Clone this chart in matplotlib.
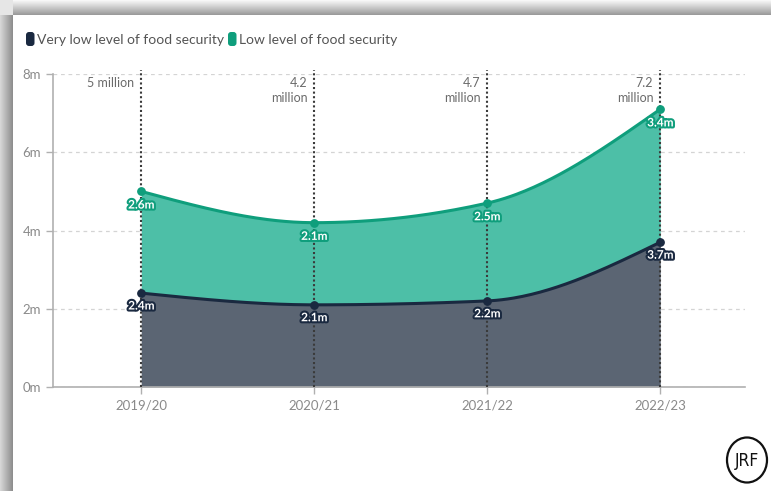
import numpy as np
import matplotlib.pyplot as plt
import matplotlib.patheffects as pe
from matplotlib.patches import Ellipse, FancyBboxPatch

plt.rcParams['font.family'] = ['Lato', 'DejaVu Sans']

years = ['2019/20', '2020/21', '2021/22', '2022/23']
very_low = [2.4, 2.1, 2.2, 3.7]
low = [2.6, 2.1, 2.5, 3.4]
total_labels = ['5 million', '4.2\nmillion', '4.7\nmillion', '7.2\nmillion']
yticks = [0, 2, 4, 6, 8]

dark_fill = '#5b6573'
dark_line = '#1a2940'
green_fill = '#4dbfa7'
green_line = '#0f9e7c'
text_grey = '#6b6b6b'


def monotone(x, y, n=60):
    # d3 curveMonotoneX style smoothing
    x = np.asarray(x, float)
    y = np.asarray(y, float)
    h = np.diff(x)
    s = np.diff(y) / h
    t = np.zeros(len(x))
    for i in range(1, len(x) - 1):
        p = (s[i - 1] * h[i] + s[i] * h[i - 1]) / (h[i - 1] + h[i])
        t[i] = (np.sign(s[i - 1]) + np.sign(s[i])) * min(abs(s[i - 1]), abs(s[i]), 0.5 * abs(p))
    t[0] = (3 * s[0] - t[1]) / 2
    t[-1] = (3 * s[-1] - t[-2]) / 2
    xs, ys = [], []
    u = np.linspace(0, 1, n)
    for i in range(len(x) - 1):
        dx = h[i] / 3
        px = [x[i], x[i] + dx, x[i + 1] - dx, x[i + 1]]
        py = [y[i], y[i] + dx * t[i], y[i + 1] - dx * t[i + 1], y[i + 1]]
        b = [(1 - u) ** 3, 3 * u * (1 - u) ** 2, 3 * u ** 2 * (1 - u), u ** 3]
        xs.append(sum(bi * pi for bi, pi in zip(b, px)))
        ys.append(sum(bi * pi for bi, pi in zip(b, py)))
    return np.concatenate(xs), np.concatenate(ys)


fig = plt.figure(figsize=(7.71, 4.91), dpi=100)
fig.patch.set_facecolor('white')

# screenshot shadow on left and top edges
bg = fig.add_axes([0, 0, 1, 1])
bg.axis('off')
grad_left = np.linspace(0.85, 0.55, 50).reshape(1, -1)
bg.imshow(grad_left, extent=[0, 13, 491, 15], cmap='gray', vmin=0, vmax=1, aspect='auto')
grad_top = np.linspace(0.98, 0.6, 50).reshape(-1, 1)
bg.imshow(grad_top, extent=[13, 771, 15, 0], cmap='gray', vmin=0, vmax=1, aspect='auto')
bg.imshow(np.array([[0.9]]), extent=[0, 13, 15, 0], cmap='gray', vmin=0, vmax=1, aspect='auto')
bg.set_xlim(0, 771)
bg.set_ylim(491, 0)

ax = fig.add_axes([53 / 771, 1 - 387 / 491, (745 - 53) / 771, (387 - 74) / 491])
ax.set_facecolor('none')

x = np.arange(len(years))
total = np.array(very_low) + np.array(low)
cx, cy_low = monotone(x, very_low)
_, cy_tot = monotone(x, total)

ax.fill_between(cx, 0, cy_low, color=dark_fill, lw=0, zorder=2)
ax.fill_between(cx, cy_low, cy_tot, color=green_fill, lw=0, zorder=2)
ax.plot(cx, cy_tot, color=green_line, lw=2.2, zorder=4, solid_capstyle='round')
ax.plot(cx, cy_low, color=dark_line, lw=2.2, zorder=4, solid_capstyle='round')
ax.scatter(x, total, s=28, color=green_line, zorder=5)
ax.scatter(x, very_low, s=28, color=dark_line, zorder=5)

for xi, lab in zip(x, total_labels):
    ax.vlines(xi, 0, 8.1, colors='#3a3a3a', linestyles=(0, (1, 1.2)), lw=1.5, zorder=3, clip_on=False)
    ax.text(xi - 0.04, 7.92, lab, ha='right', va='top', fontsize=9, color=text_grey,
            linespacing=1.3, zorder=6)

for xi, v in zip(x, very_low):
    ax.text(xi, v - 0.33, f'{v}m', ha='center', va='center', fontsize=8.5, fontweight='bold',
            color='white', zorder=7,
            path_effects=[pe.withStroke(linewidth=3, foreground=dark_line)])
for xi, v, t in zip(x, low, total):
    ax.text(xi, t - 0.35, f'{v}m', ha='center', va='center', fontsize=8.5, fontweight='bold',
            color='white', zorder=7,
            path_effects=[pe.withStroke(linewidth=3, foreground=green_line)])

ax.set_xlim(-0.51, 3.49)
ax.set_ylim(0, 8)
ax.set_yticks(yticks)
ax.set_yticklabels([f'{v}m' for v in yticks])
ax.set_xticks(x)
ax.set_xticklabels(years)
ax.grid(axis='y', color='#d4d4d4', linestyle=(0, (3, 3)), lw=0.9, zorder=0)
ax.set_axisbelow(True)
for side in ['top', 'right']:
    ax.spines[side].set_visible(False)
for side in ['left', 'bottom']:
    ax.spines[side].set_color('#b0b0b0')
    ax.spines[side].set_linewidth(1.2)
ax.tick_params(axis='both', colors='#b0b0b0', labelcolor='#8a8a8a', labelsize=9.5, length=5, width=1)
ax.tick_params(axis='x', pad=4)

# legend
for px, col, lab in [(26, dark_line, 'Very low level of food security'),
                     (228, green_line, 'Low level of food security')]:
    bg.add_patch(FancyBboxPatch((px, 32), 8.5, 14, boxstyle='round,pad=0,rounding_size=3',
                                fc=col, ec='none'))
    bg.text(px + 11, 39.5, lab, ha='left', va='center', fontsize=10, color='#555555')

# JRF logo
bg.add_patch(Ellipse((747, 460), 40, 45, fill=False, ec='#111111', lw=1.6))
bg.text(747, 461, 'JRF', ha='center', va='center', fontsize=12.5, color='#111111',
        family='DejaVu Sans', fontstretch='condensed')

fig.savefig('out.png', dpi=100)
